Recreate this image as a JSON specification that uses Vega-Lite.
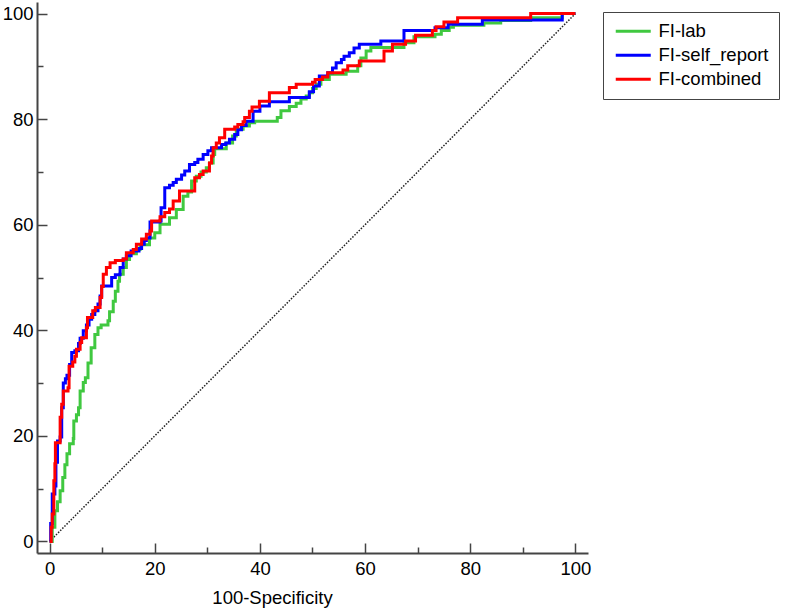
{
  "$schema": "https://vega.github.io/schema/vega-lite/v6.json",
  "width": 551,
  "height": 551,
  "autosize": {"type": "none"},
  "padding": {"left": 37, "top": 2, "right": 201, "bottom": 57},
  "background": "white",
  "config": {
    "view": {"stroke": null},
    "font": "Liberation Sans",
    "axis": {
      "labelFont": "Liberation Sans",
      "labelFontSize": 18.5,
      "labelColor": "#000",
      "titleFont": "Liberation Sans",
      "titleFontSize": 18.5,
      "titleFontWeight": "normal",
      "titleColor": "#000",
      "domainColor": "#444",
      "domainWidth": 2,
      "tickColor": "#444",
      "tickWidth": 1.5,
      "grid": false
    }
  },
  "datasets": {
    "diag": [{"x": 0, "y": 0}, {"x": 100, "y": 100}],
    "roc": [
      {"s":"FI-lab","i":0,"x":0,"y":0},{"s":"FI-lab","i":1,"x":0.5,"y":2.7},{"s":"FI-lab","i":2,"x":1.0,"y":5.8},{"s":"FI-lab","i":3,"x":1.5,"y":7.5},{"s":"FI-lab","i":4,"x":2.0,"y":9.6},{"s":"FI-lab","i":5,"x":2.5,"y":12.1},{"s":"FI-lab","i":6,"x":2.9,"y":14.5},{"s":"FI-lab","i":7,"x":3.3,"y":16.6},{"s":"FI-lab","i":8,"x":3.8,"y":18.5},{"s":"FI-lab","i":9,"x":4.5,"y":19.5},{"s":"FI-lab","i":10,"x":4.6,"y":22.8},{"s":"FI-lab","i":11,"x":5.1,"y":24},{"s":"FI-lab","i":12,"x":5.5,"y":25.3},{"s":"FI-lab","i":13,"x":5.8,"y":28.5},{"s":"FI-lab","i":14,"x":6.4,"y":30.1},{"s":"FI-lab","i":15,"x":6.8,"y":31},{"s":"FI-lab","i":16,"x":7.3,"y":33.8},{"s":"FI-lab","i":17,"x":7.9,"y":36.7},{"s":"FI-lab","i":18,"x":8.6,"y":39.2},{"s":"FI-lab","i":19,"x":9.2,"y":40.5},{"s":"FI-lab","i":20,"x":9.8,"y":41},{"s":"FI-lab","i":21,"x":11.1,"y":41.8},{"s":"FI-lab","i":22,"x":11.4,"y":43.5},{"s":"FI-lab","i":23,"x":12.1,"y":45.5},{"s":"FI-lab","i":24,"x":12.5,"y":47.4},{"s":"FI-lab","i":25,"x":13.0,"y":49.3},{"s":"FI-lab","i":26,"x":13.3,"y":50.6},{"s":"FI-lab","i":27,"x":14,"y":51.9},{"s":"FI-lab","i":28,"x":14.6,"y":53.4},{"s":"FI-lab","i":29,"x":15.2,"y":54.5},{"s":"FI-lab","i":30,"x":16.5,"y":55.3},{"s":"FI-lab","i":31,"x":17.2,"y":56.2},{"s":"FI-lab","i":32,"x":19.0,"y":57.5},{"s":"FI-lab","i":33,"x":20.0,"y":58.5},{"s":"FI-lab","i":34,"x":21,"y":60.1},{"s":"FI-lab","i":35,"x":22.8,"y":61.3},{"s":"FI-lab","i":36,"x":24.1,"y":62.9},{"s":"FI-lab","i":37,"x":25.4,"y":65.4},{"s":"FI-lab","i":38,"x":26.3,"y":66.2},{"s":"FI-lab","i":39,"x":27,"y":68.3},{"s":"FI-lab","i":40,"x":27.9,"y":69.2},{"s":"FI-lab","i":41,"x":28.8,"y":70},{"s":"FI-lab","i":42,"x":29.8,"y":70.8},{"s":"FI-lab","i":43,"x":30.4,"y":71.7},{"s":"FI-lab","i":44,"x":31.1,"y":73.3},{"s":"FI-lab","i":45,"x":31.4,"y":74.4},{"s":"FI-lab","i":46,"x":33.6,"y":75.5},{"s":"FI-lab","i":47,"x":34.8,"y":76.8},{"s":"FI-lab","i":48,"x":35.5,"y":78.1},{"s":"FI-lab","i":49,"x":36.8,"y":78.7},{"s":"FI-lab","i":50,"x":38,"y":79.3},{"s":"FI-lab","i":51,"x":39,"y":79.6},{"s":"FI-lab","i":52,"x":43.3,"y":80.3},{"s":"FI-lab","i":53,"x":44.0,"y":81.6},{"s":"FI-lab","i":54,"x":45.6,"y":82.4},{"s":"FI-lab","i":55,"x":46.9,"y":83},{"s":"FI-lab","i":56,"x":47.8,"y":83.8},{"s":"FI-lab","i":57,"x":48.8,"y":84.4},{"s":"FI-lab","i":58,"x":49.4,"y":85},{"s":"FI-lab","i":59,"x":50,"y":85.8},{"s":"FI-lab","i":60,"x":50.7,"y":86.6},{"s":"FI-lab","i":61,"x":51.6,"y":87.5},{"s":"FI-lab","i":62,"x":53.2,"y":88.5},{"s":"FI-lab","i":63,"x":56.4,"y":89.1},{"s":"FI-lab","i":64,"x":58.6,"y":90.1},{"s":"FI-lab","i":65,"x":59.2,"y":91.6},{"s":"FI-lab","i":66,"x":60.2,"y":92.9},{"s":"FI-lab","i":67,"x":61.1,"y":93.6},{"s":"FI-lab","i":68,"x":67.4,"y":94.5},{"s":"FI-lab","i":69,"x":69.3,"y":95.6},{"s":"FI-lab","i":70,"x":73.3,"y":96.1},{"s":"FI-lab","i":71,"x":74.5,"y":96.8},{"s":"FI-lab","i":72,"x":76,"y":97.4},{"s":"FI-lab","i":73,"x":76.8,"y":97.8},{"s":"FI-lab","i":74,"x":82.6,"y":98.2},{"s":"FI-lab","i":75,"x":85.8,"y":98.7},{"s":"FI-lab","i":76,"x":91.5,"y":99.2},{"s":"FI-lab","i":77,"x":97.5,"y":100},{"s":"FI-lab","i":78,"x":100,"y":100},

      {"s":"FI-self_report","i":0,"x":0,"y":0},{"s":"FI-self_report","i":1,"x":0.2,"y":3.4},{"s":"FI-self_report","i":2,"x":0.5,"y":9},{"s":"FI-self_report","i":3,"x":1.0,"y":10.5},{"s":"FI-self_report","i":4,"x":1.2,"y":15},{"s":"FI-self_report","i":5,"x":1.5,"y":19},{"s":"FI-self_report","i":6,"x":2.0,"y":19.8},{"s":"FI-self_report","i":7,"x":2.3,"y":25.3},{"s":"FI-self_report","i":8,"x":2.6,"y":30},{"s":"FI-self_report","i":9,"x":3.0,"y":30.8},{"s":"FI-self_report","i":10,"x":3.3,"y":31.5},{"s":"FI-self_report","i":11,"x":3.8,"y":33.5},{"s":"FI-self_report","i":12,"x":4.2,"y":35.8},{"s":"FI-self_report","i":13,"x":4.8,"y":36.1},{"s":"FI-self_report","i":14,"x":5.5,"y":37.5},{"s":"FI-self_report","i":15,"x":5.8,"y":38.5},{"s":"FI-self_report","i":16,"x":6.4,"y":39.9},{"s":"FI-self_report","i":17,"x":7.0,"y":41},{"s":"FI-self_report","i":18,"x":7.5,"y":42.1},{"s":"FI-self_report","i":19,"x":8.0,"y":43},{"s":"FI-self_report","i":20,"x":8.6,"y":43.7},{"s":"FI-self_report","i":21,"x":9.2,"y":45},{"s":"FI-self_report","i":22,"x":9.6,"y":46.5},{"s":"FI-self_report","i":23,"x":9.9,"y":48.4},{"s":"FI-self_report","i":24,"x":11.8,"y":50},{"s":"FI-self_report","i":25,"x":12.5,"y":50.5},{"s":"FI-self_report","i":26,"x":13.4,"y":51.9},{"s":"FI-self_report","i":27,"x":14,"y":53.5},{"s":"FI-self_report","i":28,"x":14.6,"y":54.1},{"s":"FI-self_report","i":29,"x":15.5,"y":55},{"s":"FI-self_report","i":30,"x":17,"y":55.5},{"s":"FI-self_report","i":31,"x":17.5,"y":56.3},{"s":"FI-self_report","i":32,"x":18,"y":57},{"s":"FI-self_report","i":33,"x":18.4,"y":57.5},{"s":"FI-self_report","i":34,"x":19.1,"y":60.5},{"s":"FI-self_report","i":35,"x":21,"y":60.7},{"s":"FI-self_report","i":36,"x":21.2,"y":63.2},{"s":"FI-self_report","i":37,"x":21.9,"y":67.0},{"s":"FI-self_report","i":38,"x":22.8,"y":67.5},{"s":"FI-self_report","i":39,"x":23.5,"y":68},{"s":"FI-self_report","i":40,"x":24.1,"y":68.6},{"s":"FI-self_report","i":41,"x":25.1,"y":69.4},{"s":"FI-self_report","i":42,"x":25.7,"y":70.2},{"s":"FI-self_report","i":43,"x":26.6,"y":71.4},{"s":"FI-self_report","i":44,"x":27.6,"y":71.8},{"s":"FI-self_report","i":45,"x":28.2,"y":72.4},{"s":"FI-self_report","i":46,"x":29.2,"y":73.3},{"s":"FI-self_report","i":47,"x":30.1,"y":74},{"s":"FI-self_report","i":48,"x":30.8,"y":74.6},{"s":"FI-self_report","i":49,"x":32.7,"y":75.2},{"s":"FI-self_report","i":50,"x":33.5,"y":75.5},{"s":"FI-self_report","i":51,"x":34.2,"y":76.2},{"s":"FI-self_report","i":52,"x":35.2,"y":77.1},{"s":"FI-self_report","i":53,"x":35.8,"y":78.0},{"s":"FI-self_report","i":54,"x":36.5,"y":78.8},{"s":"FI-self_report","i":55,"x":37.4,"y":79.6},{"s":"FI-self_report","i":56,"x":38.7,"y":81.5},{"s":"FI-self_report","i":57,"x":40,"y":82.5},{"s":"FI-self_report","i":58,"x":41.8,"y":83.3},{"s":"FI-self_report","i":59,"x":45.6,"y":84.1},{"s":"FI-self_report","i":60,"x":49.4,"y":85.2},{"s":"FI-self_report","i":61,"x":50.2,"y":86.3},{"s":"FI-self_report","i":62,"x":51.3,"y":88.2},{"s":"FI-self_report","i":63,"x":52.9,"y":88.8},{"s":"FI-self_report","i":64,"x":53.8,"y":89.7},{"s":"FI-self_report","i":65,"x":54.5,"y":90.7},{"s":"FI-self_report","i":66,"x":55.5,"y":91.3},{"s":"FI-self_report","i":67,"x":56,"y":91.9},{"s":"FI-self_report","i":68,"x":57,"y":92.6},{"s":"FI-self_report","i":69,"x":57.9,"y":93.5},{"s":"FI-self_report","i":70,"x":58.9,"y":94.2},{"s":"FI-self_report","i":71,"x":63.0,"y":94.8},{"s":"FI-self_report","i":72,"x":67.4,"y":96.8},{"s":"FI-self_report","i":73,"x":73.3,"y":97.3},{"s":"FI-self_report","i":74,"x":75.8,"y":98.0},{"s":"FI-self_report","i":75,"x":82.3,"y":98.8},{"s":"FI-self_report","i":76,"x":97.5,"y":100},{"s":"FI-self_report","i":77,"x":100,"y":100},

      {"s":"FI-combined","i":0,"x":0,"y":0},{"s":"FI-combined","i":1,"x":0.3,"y":2.7},{"s":"FI-combined","i":2,"x":0.5,"y":5.2},{"s":"FI-combined","i":3,"x":0.8,"y":11.5},{"s":"FI-combined","i":4,"x":1.0,"y":14.7},{"s":"FI-combined","i":5,"x":1.1,"y":18.7},{"s":"FI-combined","i":6,"x":2.0,"y":23.5},{"s":"FI-combined","i":7,"x":2.3,"y":26},{"s":"FI-combined","i":8,"x":2.6,"y":28.5},{"s":"FI-combined","i":9,"x":3.5,"y":29.1},{"s":"FI-combined","i":10,"x":3.7,"y":33.2},{"s":"FI-combined","i":11,"x":4.4,"y":34},{"s":"FI-combined","i":12,"x":4.8,"y":35.1},{"s":"FI-combined","i":13,"x":5.1,"y":36.4},{"s":"FI-combined","i":14,"x":5.8,"y":37.7},{"s":"FI-combined","i":15,"x":6.1,"y":38.6},{"s":"FI-combined","i":16,"x":7.0,"y":40.5},{"s":"FI-combined","i":17,"x":7.2,"y":42.4},{"s":"FI-combined","i":18,"x":8.2,"y":43.7},{"s":"FI-combined","i":19,"x":8.7,"y":44.3},{"s":"FI-combined","i":20,"x":9.6,"y":46.2},{"s":"FI-combined","i":21,"x":9.9,"y":48.3},{"s":"FI-combined","i":22,"x":10.2,"y":50.6},{"s":"FI-combined","i":23,"x":10.8,"y":51.9},{"s":"FI-combined","i":24,"x":11.5,"y":52.8},{"s":"FI-combined","i":25,"x":12.5,"y":53.2},{"s":"FI-combined","i":26,"x":14.0,"y":53.5},{"s":"FI-combined","i":27,"x":14.6,"y":54.7},{"s":"FI-combined","i":28,"x":15.9,"y":55.3},{"s":"FI-combined","i":29,"x":16.5,"y":56.3},{"s":"FI-combined","i":30,"x":17.5,"y":57.3},{"s":"FI-combined","i":31,"x":18.4,"y":58.2},{"s":"FI-combined","i":32,"x":19.1,"y":58.8},{"s":"FI-combined","i":33,"x":19.4,"y":60.7},{"s":"FI-combined","i":34,"x":21,"y":61.5},{"s":"FI-combined","i":35,"x":21.9,"y":62.3},{"s":"FI-combined","i":36,"x":22.8,"y":63},{"s":"FI-combined","i":37,"x":23.5,"y":64.5},{"s":"FI-combined","i":38,"x":24.7,"y":66.4},{"s":"FI-combined","i":39,"x":27.6,"y":68.9},{"s":"FI-combined","i":40,"x":28.5,"y":69.5},{"s":"FI-combined","i":41,"x":29.2,"y":70.2},{"s":"FI-combined","i":42,"x":30.4,"y":71.7},{"s":"FI-combined","i":43,"x":30.8,"y":73},{"s":"FI-combined","i":44,"x":31.1,"y":74.6},{"s":"FI-combined","i":45,"x":31.7,"y":75.5},{"s":"FI-combined","i":46,"x":32.3,"y":76.5},{"s":"FI-combined","i":47,"x":33.3,"y":78.1},{"s":"FI-combined","i":48,"x":35.2,"y":78.5},{"s":"FI-combined","i":49,"x":35.8,"y":79},{"s":"FI-combined","i":50,"x":36.8,"y":79.5},{"s":"FI-combined","i":51,"x":37.1,"y":80.3},{"s":"FI-combined","i":52,"x":38,"y":81.5},{"s":"FI-combined","i":53,"x":38.5,"y":82.3},{"s":"FI-combined","i":54,"x":39.9,"y":83.4},{"s":"FI-combined","i":55,"x":41.8,"y":85.0},{"s":"FI-combined","i":56,"x":45.6,"y":86},{"s":"FI-combined","i":57,"x":46.9,"y":86.6},{"s":"FI-combined","i":58,"x":50,"y":87},{"s":"FI-combined","i":59,"x":50.5,"y":87.5},{"s":"FI-combined","i":60,"x":51.9,"y":88},{"s":"FI-combined","i":61,"x":52.9,"y":88.8},{"s":"FI-combined","i":62,"x":55.8,"y":89.3},{"s":"FI-combined","i":63,"x":56.7,"y":90.1},{"s":"FI-combined","i":64,"x":58.9,"y":91},{"s":"FI-combined","i":65,"x":63.6,"y":92.9},{"s":"FI-combined","i":66,"x":65.2,"y":94.2},{"s":"FI-combined","i":67,"x":67.7,"y":94.8},{"s":"FI-combined","i":68,"x":69.6,"y":95.9},{"s":"FI-combined","i":69,"x":72.8,"y":96.8},{"s":"FI-combined","i":70,"x":73.5,"y":97.5},{"s":"FI-combined","i":71,"x":75,"y":98.4},{"s":"FI-combined","i":72,"x":77.6,"y":99.2},{"s":"FI-combined","i":73,"x":91.5,"y":100},{"s":"FI-combined","i":74,"x":100,"y":100}
    ]
  },
  "layer": [
    {
      "data": {"name": "diag"},
      "mark": {"type": "line", "color": "#222", "strokeWidth": 1.5, "strokeDash": [1.5, 1.5]},
      "encoding": {
        "x": {"field": "x", "type": "quantitative"},
        "y": {"field": "y", "type": "quantitative"}
      }
    },
    {
      "data": {"name": "roc"},
      "mark": {"type": "line", "interpolate": "step-after", "strokeWidth": 3},
      "encoding": {
        "x": {
          "field": "x", "type": "quantitative",
          "scale": {"domain": [-2.4, 102.4], "nice": false, "zero": false},
          "axis": {
            "title": "100-Specificity",
            "titleX": 235,
            "titleAlign": "center",
            "values": [0,5,10,15,20,25,30,35,40,45,50,55,60,65,70,75,80,85,90,95,100],
            "labelExpr": "datum.value % 20 === 0 ? datum.label : ''",
            "tickSize": {"condition": {"test": "datum.value % 20 === 0", "value": -10}, "value": -6},
            "labelPadding": 16,
            "titlePadding": 11
          }
        },
        "y": {
          "field": "y", "type": "quantitative",
          "scale": {"domain": [-2.2, 102.2], "nice": false, "zero": false},
          "axis": {
            "title": null,
            "values": [0,5,10,15,20,25,30,35,40,45,50,55,60,65,70,75,80,85,90,95,100],
            "labelExpr": "datum.value % 20 === 0 ? datum.label : ''",
            "tickSize": {"condition": {"test": "datum.value % 20 === 0", "value": -10}, "value": -6},
            "labelPadding": 14
          }
        },
        "color": {
          "field": "s", "type": "nominal",
          "scale": {"domain": ["FI-lab", "FI-self_report", "FI-combined"], "range": ["#40c840", "#0000ff", "#ff0000"]},
          "legend": {
            "title": null,
            "orient": "none",
            "legendX": 566,
            "legendY": 10,
            "strokeColor": "#444",
            "fillColor": "white",
            "padding": 10,
            "symbolType": "M-2.5,0L2.5,0",
            "symbolSize": 196,
            "symbolStrokeWidth": 3,
            "symbolOffset": 11,
            "labelOffset": 16,
            "labelFont": "Liberation Sans",
            "labelFontSize": 18.5,
            "labelColor": "#000",
            "rowPadding": 5
          }
        },
        "order": {"field": "i", "type": "quantitative"}
      }
    }
  ]
}
